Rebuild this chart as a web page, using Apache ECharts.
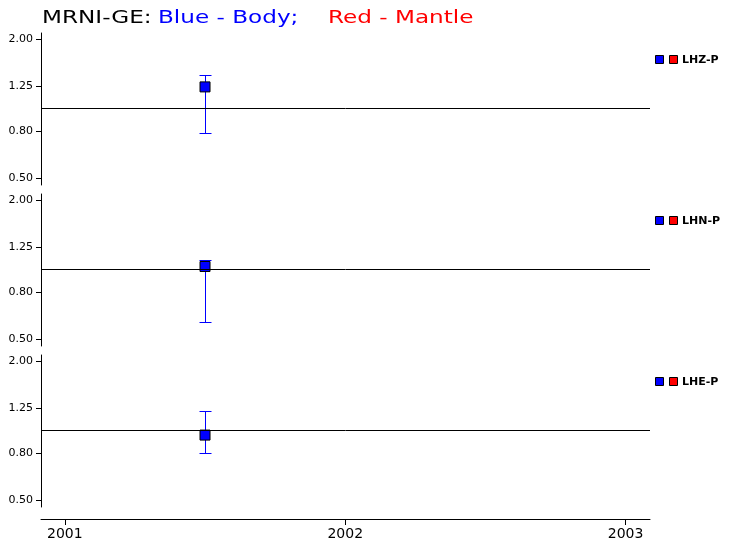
<!DOCTYPE html>
<html><head><meta charset="utf-8">
<script src="https://cdn.jsdelivr.net/npm/echarts@6/dist/echarts.min.js"></script>
<style>html,body{margin:0;padding:0;background:#fff}#c{width:733px;height:551px}</style>
</head><body><div id="c"></div>
<script>
// ---- data ----
const channels = ['LHZ-P', 'LHN-P', 'LHE-P'];
const epochs = [2001.5];                 // decimal year of each measurement
const bodyValues = [[1.24], [1.03], [0.955]];
const bodyLower  = [[0.78], [0.59], [0.80]];
const bodyUpper  = [[1.40], [1.10], [1.21]];
const mantleValues = [[], [], []];       // no mantle points plotted
const yTicks = [0.5, 0.8, 1.25, 2.0];
const xTicks = [2001, 2002, 2003];
const titleParts = ['MRNI-GE:', 'Blue - Body;', 'Red - Mantle'];

// ---- layout ----
const panelTop0 = 33, panelStep = 161, panelH = 152;
const gridLeft = 41, gridRight = 83;
const yMin = 0.466, yMax = 2.123;
const xMin = 2000.915, xMax = 2003.087;
const BLUE = '#0000ff', RED = '#ff0000';

const chart = echarts.init(document.getElementById('c'), null, {renderer: 'canvas'});

const grids = channels.map((c, i) => ({
  left: gridLeft, right: gridRight, top: panelTop0 + panelStep * i, height: panelH
}));

const xAxes = channels.map((c, i) => ({
  type: 'value', gridIndex: i, min: xMin, max: xMax,
  show: i === channels.length - 1, offset: 12,
  axisLine: {show: true, lineStyle: {color: '#000', width: 1}},
  axisTick: {show: true, length: 6, customValues: xTicks, lineStyle: {color: '#000'}},
  axisLabel: {customValues: xTicks, formatter: v => String(Math.round(v)),
    fontFamily: 'DejaVu Sans', fontSize: 14, color: '#000', margin: 8},
  splitLine: {show: false}
}));

const yAxes = channels.map((c, i) => ({
  type: 'log', gridIndex: i, min: yMin, max: yMax,
  axisLine: {show: true, lineStyle: {color: '#000', width: 1}},
  axisTick: {show: true, length: 5, customValues: yTicks, lineStyle: {color: '#000'}},
  axisLabel: {customValues: yTicks, formatter: v => Number(v).toFixed(2),
    fontFamily: 'DejaVu Sans', fontSize: 11, color: '#000', margin: 8},
  splitLine: {show: false}
}));

function errRender(params, api) {
  const x = api.value(0);
  const p1 = api.coord([x, api.value(1)]);
  const p2 = api.coord([x, api.value(2)]);
  const hw = 6;
  const cx = Math.round(p1[0]) + 0.5;
  const y1 = Math.round(p1[1]) + 0.5, y2 = Math.round(p2[1]) + 0.5;
  return {
    type: 'path',
    shape: {pathData: 'M' + (cx - hw) + ' ' + y1 + 'L' + (cx + hw) + ' ' + y1 +
      'M' + cx + ' ' + y1 + 'L' + cx + ' ' + y2 +
      'M' + (cx - hw) + ' ' + y2 + 'L' + (cx + hw) + ' ' + y2},
    style: {stroke: BLUE, fill: 'none', lineWidth: 1, opacity: 1}
  };
}

const series = [];
channels.forEach((c, i) => {
  series.push({
    type: 'custom', name: c + ' body error', xAxisIndex: i, yAxisIndex: i,
    renderItem: errRender, z: 3,
    itemStyle: {color: BLUE, borderColor: BLUE},
    encode: {x: 0, y: [1, 2]},
    data: epochs.map((x, j) => [x, bodyLower[i][j], bodyUpper[i][j]])
  });
  series.push({
    type: 'scatter', name: c + ' body', xAxisIndex: i, yAxisIndex: i,
    symbol: 'rect', symbolSize: 10, z: 4,
    itemStyle: {color: BLUE, borderColor: '#000', borderWidth: 1, opacity: 1},
    data: epochs.map((x, j) => [x, bodyValues[i][j]]),
    markLine: {
      silent: true, symbol: 'none', animation: false, label: {show: false},
      lineStyle: {color: '#000', width: 1, type: 'solid'},
      emphasis: {disabled: true},
      data: [{yAxis: 1}]
    }
  });
  series.push({
    type: 'scatter', name: c + ' mantle', xAxisIndex: i, yAxisIndex: i,
    symbol: 'rect', symbolSize: 10,
    itemStyle: {color: RED, borderColor: '#000', borderWidth: 1},
    data: mantleValues[i]
  });
});

const titleX = [42, 158, 328];
const titleColors = ['#000', BLUE, RED];
const graphics = titleParts.map((t, k) => ({
  type: 'text', x: titleX[k], y: 19, scaleX: 1.36,
  style: {text: t, fill: titleColors[k], font: '17px "DejaVu Sans"',
    textAlign: 'left', textVerticalAlign: 'middle'}
}));
channels.forEach((c, i) => {
  const cy = panelTop0 + panelStep * i + 27;
  graphics.push({type: 'rect', shape: {x: 655.5, y: cy - 4.5, width: 8, height: 8},
    style: {fill: BLUE, stroke: '#000', lineWidth: 1}});
  graphics.push({type: 'rect', shape: {x: 669.5, y: cy - 4.5, width: 8, height: 8},
    style: {fill: RED, stroke: '#000', lineWidth: 1}});
  graphics.push({type: 'text', x: 682, y: cy,
    style: {text: c, fill: '#000', font: 'bold 11px "DejaVu Sans"',
      textAlign: 'left', textVerticalAlign: 'middle'}});
});

chart.setOption({
  animation: false,
  backgroundColor: '#fff',
  grid: grids,
  xAxis: xAxes,
  yAxis: yAxes,
  series: series,
  graphic: graphics
});
</script></body></html>
